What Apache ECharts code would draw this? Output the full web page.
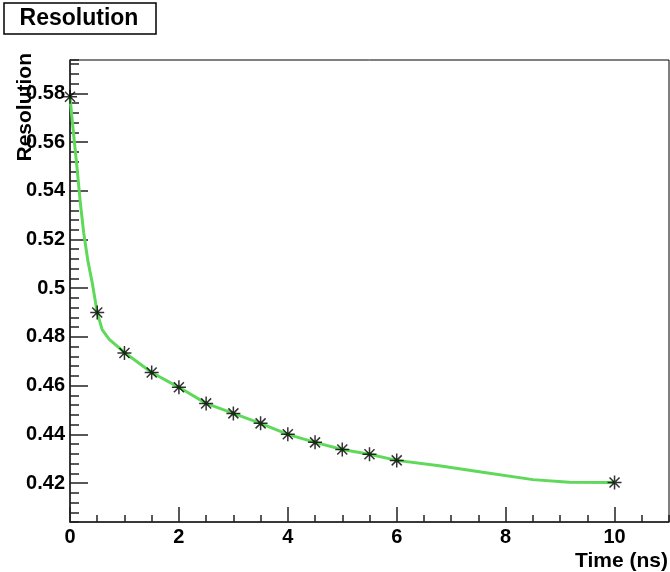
<!DOCTYPE html>
<html>
<head>
<meta charset="utf-8">
<script src="https://cdn.jsdelivr.net/npm/echarts@6/dist/echarts.min.js"></script>
<style>
	html, body { margin: 0; padding: 0; background: #fff; }
	#chart { width: 670px; height: 572px; }
</style>
</head>
<body>
<div id="chart"></div>
<script>
// measured points (asterisks)
var timeNs = [0, 0.5, 1, 1.5, 2, 2.5, 3, 3.5, 4, 4.5, 5, 5.5, 6, 10]
var resolution = [0.5786, 0.490, 0.4734, 0.4654, 0.4593, 0.4527, 0.4486, 0.4445, 0.4400, 0.4367, 0.4338, 0.4318, 0.4293, 0.4202]

// green curve
var curveX = [0, 0.04, 0.12, 0.19, 0.25, 0.33, 0.41, 0.5, 0.59, 0.72, 0.85, 1, 1.5, 2, 2.5, 3, 3.5, 4, 4.5, 5, 5.5, 6, 6.78, 7.58, 8.5, 9.17, 10]
var curveY = [0.5786, 0.569, 0.5515, 0.535, 0.523, 0.511, 0.502, 0.490, 0.483, 0.479, 0.4765, 0.4736, 0.4654, 0.4593, 0.4527, 0.4486, 0.4445, 0.4400, 0.4367, 0.4338, 0.4318, 0.4293, 0.4271, 0.4244, 0.4214, 0.4203, 0.4202]

var font = 'Liberation Sans'
var star = 'path://M0,-6L0,6M-6,0L6,0M-4.3,-4.3L4.3,4.3M-4.3,4.3L4.3,-4.3'

function pairs(xs, ys) {
	return xs.map(function (x, i) { return [x, ys[i]] })
}

var chart = echarts.init(document.getElementById('chart'))
chart.setOption({
	animation: false,
	grid: {
		left: 70, top: 60, right: 1, bottom: 50,
		show: true, borderColor: '#000', borderWidth: 1,
	},
	xAxis: [
		{
			type: 'value', min: 0, max: 11, interval: 2,
			axisLine: { lineStyle: { color: '#222', width: 1.5 } },
			axisTick: { inside: true, length: 15, lineStyle: { color: '#222', width: 1.5 } },
			axisLabel: { showMaxLabel: false, margin: 5, color: '#000', fontFamily: font, fontWeight: 'bold', fontSize: 20 },
			splitLine: { show: false },
		},
		{
			// minor ticks
			type: 'value', min: 0, max: 11, interval: 0.5, position: 'bottom',
			axisLine: { show: false },
			axisTick: { inside: true, length: 7, lineStyle: { color: '#222', width: 1.5 } },
			axisLabel: { show: false },
			splitLine: { show: false },
		},
	],
	yAxis: [
		{
			type: 'value', min: 0.404, max: 0.5937, splitNumber: 10,
			axisLine: { show: true, lineStyle: { color: '#222', width: 1.5 } },
			axisTick: { show: true, inside: true, length: 18, lineStyle: { color: '#222', width: 1.5 } },
			axisLabel: {
				showMinLabel: false, showMaxLabel: false, margin: 5,
				color: '#000', fontFamily: font, fontWeight: 'bold', fontSize: 20,
				formatter: function (v) { return String(+v.toFixed(2)) },
			},
			splitLine: { show: false },
		},
		{
			// minor ticks
			type: 'value', min: 0.404, max: 0.5937, interval: 0.004, position: 'left',
			axisLine: { show: false },
			axisTick: { show: true, inside: true, length: 9, lineStyle: { color: '#222', width: 1.5 } },
			axisLabel: { show: false },
			splitLine: { show: false },
		},
	],
	graphic: [
		{
			type: 'rect', shape: { x: 4, y: 3, width: 152, height: 31 },
			style: { fill: '#fff', stroke: '#000', lineWidth: 1.5 },
		},
		{
			type: 'text', x: 79, y: 19,
			style: { text: 'Resolution', fill: '#000', font: 'bold 23px "Liberation Sans"', textAlign: 'center', textVerticalAlign: 'middle' },
		},
		{
			type: 'text', x: 25, y: 53, rotation: Math.PI / 2,
			style: { text: 'Resolution', fill: '#000', font: 'bold 21px "Liberation Sans"', textAlign: 'right', textVerticalAlign: 'middle' },
		},
		{
			type: 'text', x: 668, y: 561,
			style: { text: 'Time (ns)', fill: '#000', font: 'bold 21px "Liberation Sans"', textAlign: 'right', textVerticalAlign: 'middle' },
		},
	],
	series: [
		{
			type: 'line',
			data: pairs(curveX, curveY),
			showSymbol: false,
			lineStyle: { color: '#5fd95a', width: 3 },
			z: 2,
		},
		{
			type: 'scatter',
			data: pairs(timeNs, resolution),
			symbol: star,
			symbolSize: 14,
			itemStyle: { color: '#000', borderColor: '#000', borderWidth: 1.5 },
			z: 3,
		},
	],
})
</script>
</body>
</html>
